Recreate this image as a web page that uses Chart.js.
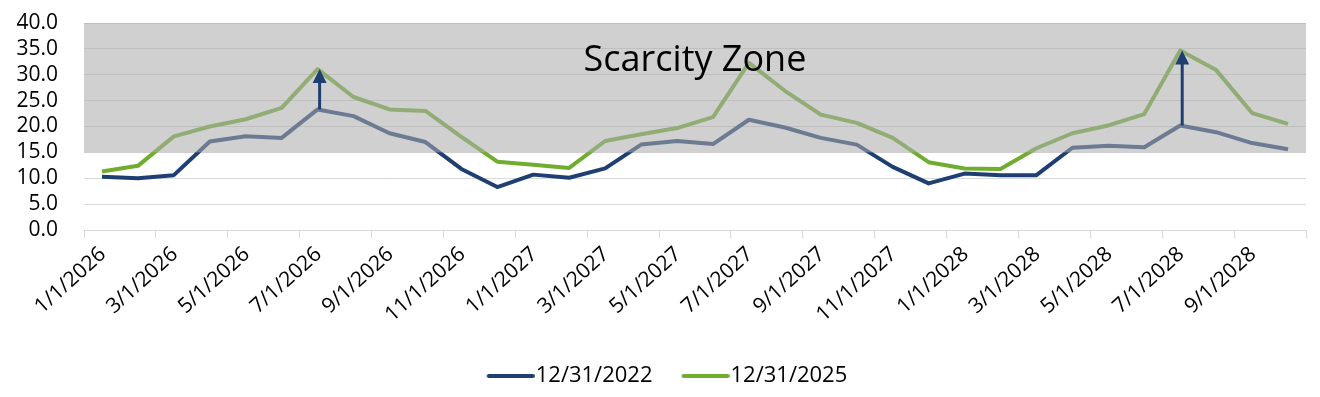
<!DOCTYPE html>
<html>
<head>
<meta charset="utf-8">
<script src="https://cdn.jsdelivr.net/npm/chart.js@4/dist/chart.umd.min.js"></script>
<style>
  html, body { margin: 0; padding: 0; background: #ffffff; }
  #wrap { width: 1320px; height: 397px; position: relative; }
</style>
</head>
<body>
<div id="wrap"><canvas id="c"></canvas></div>
<script>
// ---- data ----
const categories = [
  '1/1/2026','2/1/2026','3/1/2026','4/1/2026','5/1/2026','6/1/2026','7/1/2026','8/1/2026','9/1/2026','10/1/2026','11/1/2026','12/1/2026',
  '1/1/2027','2/1/2027','3/1/2027','4/1/2027','5/1/2027','6/1/2027','7/1/2027','8/1/2027','9/1/2027','10/1/2027','11/1/2027','12/1/2027',
  '1/1/2028','2/1/2028','3/1/2028','4/1/2028','5/1/2028','6/1/2028','7/1/2028','8/1/2028','9/1/2028','10/1/2028'
];
const series2022 = [
  10.3,10.0,10.6,17.1,18.1,17.8,23.3,22.0,18.7,17.0,11.8,8.3,
  10.7,10.1,11.9,16.5,17.2,16.6,21.3,19.8,17.8,16.5,12.2,9.0,
  10.9,10.6,10.6,15.9,16.3,16.0,20.2,18.9,16.8,15.6
];
const series2025 = [
  11.3,12.4,18.1,20.0,21.4,23.6,31.1,25.7,23.3,23.0,18.0,13.2,
  12.6,12.0,17.2,18.5,19.7,21.8,32.3,26.9,22.3,20.7,17.8,13.1,
  11.9,11.8,15.8,18.7,20.2,22.4,34.7,30.9,22.6,20.5
];
const seriesNames = ['12/31/2022', '12/31/2025'];
const yTicks = [0, 5, 10, 15, 20, 25, 30, 35, 40];
const ZONE_MIN = 15;
const ZONE_MAX = 40;
const ZONE_LABEL = 'Scarcity Zone';
const arrowMonths = [6, 30];

// ---- styles ----
const BLUE = '#1f3f73';
const GREEN = '#70ad2f';
const FONT = "'Open Sans', 'Liberation Sans', sans-serif";

const toPoints = arr => arr.map((v, i) => ({ x: i + 0.5, y: v }));

// legend swatch: a 46px line whose left end sits at the legend item's start
function legendSwatch(color) {
  const c = document.createElement('canvas');
  c.width = 56; c.height = 8;
  const g = c.getContext('2d');
  g.strokeStyle = color;
  g.lineWidth = 4;
  g.lineCap = 'round';
  g.beginPath();
  g.moveTo(10, 4);
  g.lineTo(54, 4);
  g.stroke();
  return c;
}

const zonePlugin = {
  id: 'zone',
  afterDatasetsDraw(chart) {
    const { ctx, chartArea, scales } = chart;
    const y = scales.y, x = scales.x;
    const top = y.getPixelForValue(ZONE_MAX);
    const bot = y.getPixelForValue(ZONE_MIN);
    ctx.save();
    ctx.fillStyle = 'rgba(171,171,171,0.56)';
    ctx.fillRect(chartArea.left, top, chartArea.right - chartArea.left, bot - top);
    // arrows
    ctx.strokeStyle = BLUE;
    ctx.fillStyle = BLUE;
    ctx.lineWidth = 3;
    arrowMonths.forEach(i => {
      const px = x.getPixelForValue(i + 0.5) + 2;
      const y1 = y.getPixelForValue(series2022[i]);
      const y2 = y.getPixelForValue(series2025[i]);
      const head = 14;
      ctx.beginPath();
      ctx.moveTo(px, y1);
      ctx.lineTo(px, y2 + head - 1);
      ctx.stroke();
      ctx.beginPath();
      ctx.moveTo(px, y2);
      ctx.lineTo(px - 7, y2 + head);
      ctx.lineTo(px + 7, y2 + head);
      ctx.closePath();
      ctx.fill();
    });
    // zone label
    ctx.fillStyle = '#000000';
    ctx.font = "36px " + FONT;
    ctx.textAlign = 'center';
    ctx.textBaseline = 'alphabetic';
    ctx.fillText(ZONE_LABEL, x.getPixelForValue(17.0), y.getPixelForValue(30.8));
    ctx.restore();
  }
};

new Chart(document.getElementById('c'), {
  type: 'line',
  data: {
    datasets: [
      { label: seriesNames[0], data: toPoints(series2022), borderColor: BLUE, backgroundColor: BLUE,
        borderWidth: 4, pointRadius: 0, tension: 0, borderJoinStyle: 'round',
        pointStyle: legendSwatch(BLUE) },
      { label: seriesNames[1], data: toPoints(series2025), borderColor: GREEN, backgroundColor: GREEN,
        borderWidth: 4, pointRadius: 0, tension: 0, borderJoinStyle: 'round',
        pointStyle: legendSwatch(GREEN) }
    ]
  },
  options: {
    responsive: true,
    maintainAspectRatio: false,
    animation: false,
    layout: { padding: { top: 23, right: 0, left: 16, bottom: 0 } },
    plugins: {
      legend: {
        position: 'bottom',
        labels: {
          usePointStyle: true,
          pointStyleWidth: 36,
          boxHeight: 8,
          padding: 31,
          color: '#000000',
          font: { family: FONT, size: 22 }
        }
      },
      tooltip: { enabled: false }
    },
    scales: {
      x: {
        type: 'linear',
        min: 0, max: categories.length,
        afterFit(s) { s.height = 104; s.paddingLeft = 0; s.paddingRight = 14; },
        afterBuildTicks(s) {
          const t = [];
          for (let v = 0; v <= categories.length; v += 2) t.push({ value: v });
          s.ticks = t;
        },
        ticks: {
          autoSkip: false,
          minRotation: 42, maxRotation: 42,
          padding: 4,
          labelOffset: 19,
          color: '#000000',
          font: { family: FONT, size: 21 },
          callback: v => (v < categories.length ? categories[v] : '')
        },
        grid: { drawOnChartArea: false, drawTicks: true, tickLength: 8, color: '#d9d9d9' },
        border: { display: true, color: '#d9d9d9' }
      },
      y: {
        min: yTicks[0], max: yTicks[yTicks.length - 1],
        afterFit(s) { s.width = 68; s.paddingTop = 0; s.paddingBottom = 0; },
        afterBuildTicks(s) { s.ticks = yTicks.map(v => ({ value: v })); },
        ticks: {
          autoSkip: false,
          padding: 26,
          color: '#000000',
          font: { family: FONT, size: 21 },
          callback: v => Number(v).toFixed(1)
        },
        grid: { color: '#d9d9d9', drawTicks: false },
        border: { display: false }
      }
    }
  },
  plugins: [zonePlugin]
});
</script>
</body>
</html>
